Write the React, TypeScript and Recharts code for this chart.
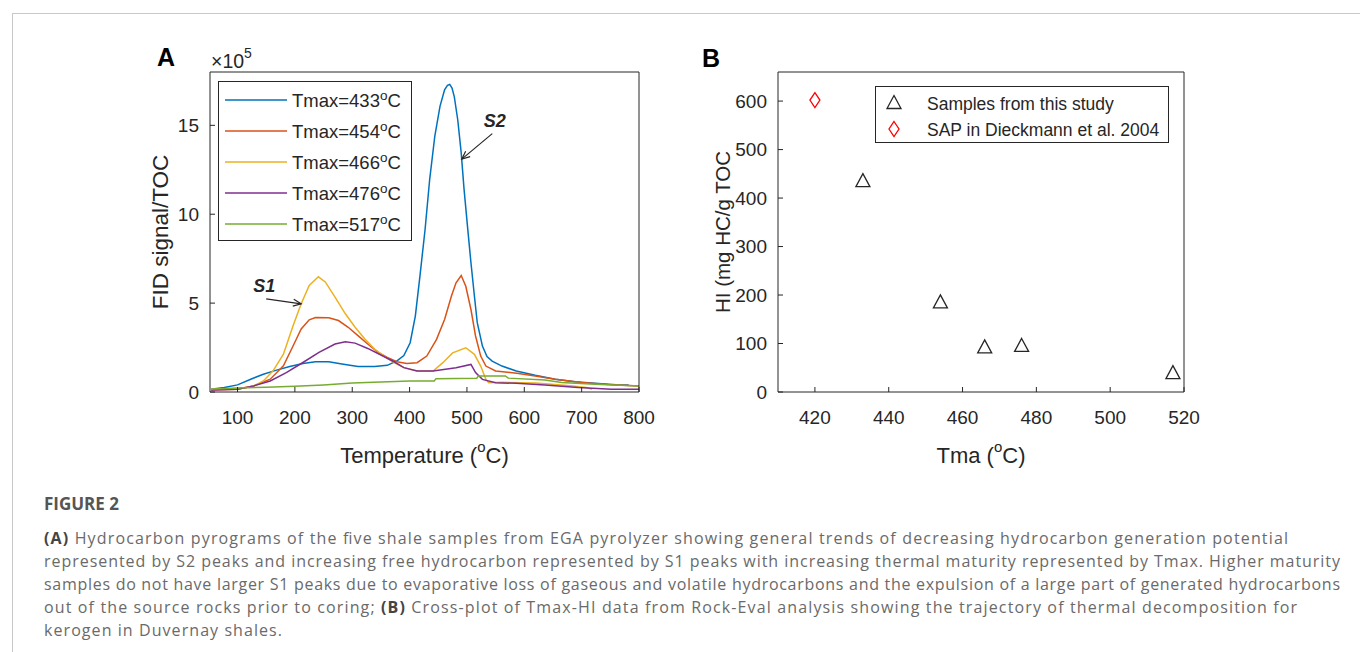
import React from "react";
import {
  LineChart,
  Line,
  XAxis,
  YAxis,
  Legend,
  ReferenceDot,
  ScatterChart,
  Scatter,
} from "recharts";

const FONT = '"Liberation Sans", Arial, sans-serif';
const INK = "#262626";

// panel A: pyrograms, temperature (°C) and FID signal/TOC (x10^5)
const temps433 = [54, 77, 100, 123, 145, 168, 191, 214, 236, 259, 282, 310, 339, 361, 378, 390, 401, 410, 418, 427, 435, 444, 453, 461, 466, 470, 474, 478, 484, 490, 495, 501, 507, 513, 518, 527, 535, 544, 561, 586, 619, 654, 688, 723, 760, 782];
const fid433 = [0.15, 0.25, 0.4, 0.72, 1.0, 1.23, 1.43, 1.6, 1.7, 1.7, 1.57, 1.43, 1.43, 1.5, 1.75, 2.05, 2.77, 4.27, 6.5, 9.14, 11.95, 14.4, 16.07, 17.0, 17.25, 17.3, 17.1, 16.6, 15.3, 13.45, 11.4, 9.3, 7.27, 5.4, 3.9, 2.58, 2.0, 1.74, 1.46, 1.18, 0.94, 0.72, 0.57, 0.49, 0.41, 0.39];

const temps454 = [54, 100, 128, 157, 180, 197, 211, 225, 236, 259, 276, 293, 310, 327, 344, 361, 378, 395, 413, 430, 447, 461, 473, 481, 490, 498, 507, 515, 524, 533, 550, 587, 619, 654, 700, 746, 800];
const fid454 = [0.11, 0.15, 0.34, 0.72, 1.47, 2.6, 3.55, 4.06, 4.19, 4.17, 4.02, 3.64, 3.17, 2.7, 2.26, 1.94, 1.7, 1.6, 1.65, 2.02, 2.96, 4.08, 5.4, 6.14, 6.55, 5.95, 4.64, 3.15, 2.02, 1.46, 1.18, 1.05, 0.9, 0.72, 0.53, 0.42, 0.34];

const temps466 = [54, 100, 128, 145, 162, 180, 197, 211, 225, 241, 253, 270, 288, 305, 322, 339, 356, 373, 390, 413, 441, 458, 475, 498, 513, 524, 533, 538, 560, 620, 680, 708, 718];
const fid466 = [0.15, 0.19, 0.34, 0.62, 1.19, 2.13, 3.74, 4.96, 6.0, 6.48, 6.19, 5.34, 4.4, 3.64, 2.98, 2.42, 2.0, 1.66, 1.37, 1.18, 1.18, 1.65, 2.2, 2.49, 2.12, 1.46, 0.71, 0.52, 0.55, 0.5, 0.35, 0.25, 0.15];

const temps476 = [54, 100, 128, 157, 185, 214, 242, 270, 288, 305, 327, 350, 373, 390, 413, 441, 481, 507, 515, 527, 550, 586, 636, 694, 752, 800];
const fid476 = [0.11, 0.15, 0.34, 0.62, 1.09, 1.66, 2.23, 2.7, 2.83, 2.75, 2.45, 2.08, 1.7, 1.37, 1.18, 1.18, 1.37, 1.55, 1.09, 0.71, 0.52, 0.49, 0.4, 0.25, 0.15, 0.15];

const temps517 = [54, 100, 150, 200, 250, 300, 350, 400, 443, 446, 517, 520, 567, 572, 636, 665, 723, 800];
const fid517 = [0.15, 0.22, 0.27, 0.33, 0.4, 0.5, 0.56, 0.62, 0.62, 0.75, 0.78, 0.9, 0.9, 0.78, 0.68, 0.53, 0.43, 0.34];

const tempTicks = [100, 200, 300, 400, 500, 600, 700, 800];
const fidTicks = [0, 5, 10, 15];

// annotation tips (temperature, FID)
const s1Tip = [211, 4.96];
const s2Tip = [491, 13.1];

// panel B: Tmax vs HI
const tmaxSamples = [433, 454, 466, 476, 517];
const hiSamples = [437, 187, 94, 97, 41];
const tmaxSap = [420];
const hiSap = [602];
const tmaTicks = [420, 440, 460, 480, 500, 520];
const hiTicks = [0, 100, 200, 300, 400, 500, 600];

const toPoints = (xs: number[], ys: number[], xk: string, yk: string) =>
  xs.map((x, i) => ({ [xk]: x, [yk]: ys[i] }));

const pyroSeries = [
  { name: "Tmax=433", color: "#0072BD", data: toPoints(temps433, fid433, "t", "v") },
  { name: "Tmax=454", color: "#D95319", data: toPoints(temps454, fid454, "t", "v") },
  { name: "Tmax=466", color: "#EDB120", data: toPoints(temps466, fid466, "t", "v") },
  { name: "Tmax=476", color: "#7E2F8E", data: toPoints(temps476, fid476, "t", "v") },
  { name: "Tmax=517", color: "#77AC30", data: toPoints(temps517, fid517, "t", "v") },
];

const hiNames = ["Samples from this study", "SAP in Dieckmann et al. 2004"];

const captionLines = [
  { w: 1244, bold: "(A)", pre: "", text: " Hydrocarbon pyrograms of the five shale samples from EGA pyrolyzer showing general trends of decreasing hydrocarbon generation potential" },
  { w: 1296, bold: "", pre: "", text: "represented by S2 peaks and increasing free hydrocarbon represented by S1 peaks with increasing thermal maturity represented by Tmax. Higher maturity" },
  { w: 1296, bold: "", pre: "", text: "samples do not have larger S1 peaks due to evaporative loss of gaseous and volatile hydrocarbons and the expulsion of a large part of generated hydrocarbons" },
  { w: 1253, bold: "(B)", pre: "out of the source rocks prior to coring; ", text: " Cross-plot of Tmax-HI data from Rock-Eval analysis showing the trajectory of thermal decomposition for" },
  { w: 238, bold: "", pre: "", text: "kerogen in Duvernay shales." },
];

const tickStyle = { fill: INK, fontSize: 19, fontFamily: FONT };

const SupTitle = ({ x, y, pre, sup, post, rotate, size = 22 }: any) => (
  <text
    x={x}
    y={y}
    fill={INK}
    fontFamily={FONT}
    fontSize={size}
    textAnchor="middle"
    dominantBaseline="central"
    transform={rotate ? `rotate(-90 ${x} ${y})` : undefined}
  >
    {pre}
    {sup ? (
      <tspan dy={-size * 0.42} fontSize={size * 0.68}>
        {sup}
      </tspan>
    ) : null}
    {post ? <tspan dy={sup ? size * 0.42 : 0}>{post}</tspan> : null}
  </text>
);

const xTitle = (pre: string, sup: string, post: string) => (p: any) => {
  const vb = p.viewBox;
  return <SupTitle x={vb.x + vb.width / 2} y={vb.y + 63} pre={pre} sup={sup} post={post} />;
};

const yTitle = (text: string, gap: number, size: number) => (p: any) => {
  const vb = p.viewBox;
  return <SupTitle x={vb.x + vb.width - gap} y={vb.y + vb.height / 2} pre={text} rotate size={size} />;
};

const ArrowNote = ({ cx, cy, tail, textAt, label }: any) => {
  const ax = cx + tail[0];
  const ay = cy + tail[1];
  const ang = Math.atan2(cy - ay, cx - ax);
  const hl = 8;
  const hw = 3.5;
  const bx = cx - hl * Math.cos(ang);
  const by = cy - hl * Math.sin(ang);
  const p1 = `${bx - hw * Math.sin(ang)},${by + hw * Math.cos(ang)}`;
  const p2 = `${bx + hw * Math.sin(ang)},${by - hw * Math.cos(ang)}`;
  return (
    <g>
      <line x1={ax} y1={ay} x2={cx} y2={cy} stroke={INK} strokeWidth={1.2} />
      <polyline points={`${p1} ${cx},${cy} ${p2}`} fill="none" stroke={INK} strokeWidth={1.2} />
      <text
        x={cx + textAt[0]}
        y={cy + textAt[1]}
        fill={INK}
        fontFamily={FONT}
        fontSize={18}
        fontWeight="bold"
        fontStyle="italic"
        textAnchor="middle"
        dominantBaseline="central"
      >
        {label}
      </text>
    </g>
  );
};

const PyroLegend = ({ payload }: any) => (
  <div
    style={{
      width: 194,
      height: 160,
      border: `1px solid ${INK}`,
      background: "#fff",
      boxSizing: "border-box",
      paddingTop: 3,
      fontFamily: FONT,
    }}
  >
    {pyroSeries.map((s) => {
      const e = (payload ?? []).find((p: any) => p.value === s.name);
      return (
        <div key={s.name} style={{ height: 30.8, display: "flex", alignItems: "center" }}>
          <svg width={70} height={10}>
            <line x1={6} x2={68} y1={5} y2={5} stroke={e?.color ?? s.color} strokeWidth={1.5} />
          </svg>
          <span style={{ fontSize: 18.5, color: INK, marginLeft: 3, lineHeight: "20px", position: "relative", top: 2 }}>
            {s.name}
            <span style={{ fontSize: 13.5, position: "relative", top: -7 }}>o</span>C
          </span>
        </div>
      );
    })}
  </div>
);

const Triangle = ({ cx, cy }: any) => (
  <polygon
    points={`${cx},${cy - 6.5} ${cx + 7},${cy + 6.5} ${cx - 7},${cy + 6.5}`}
    fill="none"
    stroke={INK}
    strokeWidth={1.3}
  />
);

const Diamond = ({ cx, cy }: any) => (
  <polygon
    points={`${cx},${cy - 7.5} ${cx + 5},${cy} ${cx},${cy + 7.5} ${cx - 5},${cy}`}
    fill="none"
    stroke="#ff0000"
    strokeWidth={1.3}
  />
);

const HiLegend = () => (
  <div
    style={{
      width: 294,
      height: 57,
      border: `1px solid ${INK}`,
      background: "#fff",
      boxSizing: "border-box",
      paddingTop: 2,
      fontFamily: FONT,
    }}
  >
    {hiNames.map((name, i) => (
      <div key={name} style={{ height: 26.5, display: "flex", alignItems: "center" }}>
        <svg width={40} height={20}>
          {i === 0 ? <Triangle cx={18} cy={10} /> : <Diamond cx={18} cy={10} />}
        </svg>
        <span style={{ fontSize: 17.5, color: INK, marginLeft: 11, position: "relative", top: 2 }}>
          {name}
        </span>
      </div>
    ))}
  </div>
);

export default function App() {
  return (
    <div
      style={{
        position: "absolute",
        left: 0,
        top: 0,
        width: 1360,
        height: 652,
        overflow: "hidden",
        background: "#fff",
      }}
    >
      <div
        style={{
          position: "absolute",
          left: 12,
          top: 13,
          width: 1400,
          height: 700,
          border: "1px solid #c8c8c8",
        }}
      />

      <div style={{ position: "absolute", left: 0, top: 0 }}>
        <LineChart width={680} height={480} margin={{ top: 71, right: 40, bottom: 18, left: 150 }}>
          <XAxis
            dataKey="t"
            type="number"
            domain={[52, 800]}
            ticks={tempTicks}
            allowDataOverflow
            height={70}
            tickSize={-5}
            tickMargin={24}
            tick={tickStyle}
            stroke={INK}
            label={{ content: xTitle("Temperature (", "o", "C)") }}
          />
          <XAxis
            xAxisId="top"
            orientation="top"
            type="number"
            domain={[52, 800]}
            ticks={tempTicks}
            allowDataOverflow
            height={1}
            tickSize={-5}
            tick={false}
            stroke={INK}
          />
          <YAxis
            type="number"
            domain={[0, 18]}
            ticks={fidTicks}
            allowDataOverflow
            width={60}
            tickSize={-5}
            tickMargin={16}
            tick={tickStyle}
            stroke={INK}
            label={{ content: yTitle("FID signal/TOC", 50, 22.5) }}
          />
          <YAxis
            yAxisId="right"
            orientation="right"
            type="number"
            domain={[0, 18]}
            ticks={fidTicks}
            allowDataOverflow
            width={1}
            tickSize={-5}
            tick={false}
            stroke={INK}
          />
          <Legend
            layout="vertical"
            align="center"
            verticalAlign="middle"
            width={194}
            height={160}
            wrapperStyle={{ left: 218, top: 81 }}
            content={PyroLegend}
          />
          {pyroSeries.map((s) => (
            <Line
              key={s.name}
              data={s.data}
              dataKey="v"
              name={s.name}
              type="linear"
              stroke={s.color}
              strokeWidth={1.5}
              dot={false}
              activeDot={false}
              isAnimationActive={false}
            />
          ))}
          <ReferenceDot
            x={s1Tip[0]}
            y={s1Tip[1]}
            r={0}
            ifOverflow="visible"
            shape={(p: any) => <ArrowNote {...p} tail={[-35, -5]} textAt={[-37, -18]} label="S1" />}
          />
          <ReferenceDot
            x={s2Tip[0]}
            y={s2Tip[1]}
            r={0}
            ifOverflow="visible"
            shape={(p: any) => <ArrowNote {...p} tail={[30.5, -25.5]} textAt={[33, -38]} label="S2" />}
          />
        </LineChart>
      </div>

      <div style={{ position: "absolute", left: 680, top: 0 }}>
        <ScatterChart width={560} height={480} margin={{ top: 71, right: 55, bottom: 18, left: 38 }}>
          <XAxis
            dataKey="tmax"
            type="number"
            domain={[410, 520]}
            ticks={tmaTicks}
            allowDataOverflow
            height={70}
            tickSize={-5}
            tickMargin={24}
            tick={tickStyle}
            stroke={INK}
            label={{ content: xTitle("Tma (", "o", "C)") }}
          />
          <XAxis
            xAxisId="top"
            orientation="top"
            type="number"
            domain={[410, 520]}
            ticks={tmaTicks}
            allowDataOverflow
            height={1}
            tickSize={-5}
            tick={false}
            stroke={INK}
          />
          <YAxis
            dataKey="hi"
            type="number"
            domain={[0, 660]}
            ticks={hiTicks}
            allowDataOverflow
            width={60}
            tickSize={-5}
            tickMargin={16}
            tick={tickStyle}
            stroke={INK}
            label={{ content: yTitle("HI (mg HC/g TOC", 56, 20.5) }}
          />
          <YAxis
            yAxisId="right"
            orientation="right"
            type="number"
            domain={[0, 660]}
            ticks={hiTicks}
            allowDataOverflow
            width={1}
            tickSize={-5}
            tick={false}
            stroke={INK}
          />
          <Legend
            layout="vertical"
            align="center"
            verticalAlign="middle"
            width={294}
            height={57}
            wrapperStyle={{ left: 195, top: 86 }}
            content={HiLegend}
          />
          <Scatter
            name={hiNames[0]}
            data={toPoints(tmaxSamples, hiSamples, "tmax", "hi")}
            shape={Triangle}
            isAnimationActive={false}
          />
          <Scatter
            name={hiNames[1]}
            data={toPoints(tmaxSap, hiSap, "tmax", "hi")}
            shape={Diamond}
            isAnimationActive={false}
          />
        </ScatterChart>
      </div>

      <svg
        width={1360}
        height={90}
        style={{ position: "absolute", left: 0, top: 0, pointerEvents: "none" }}
      >
        <text x={157} y={66} fontFamily={FONT} fontSize={25} fontWeight="bold" fill="#000">
          A
        </text>
        <text x={702} y={67} fontFamily={FONT} fontSize={25} fontWeight="bold" fill="#000">
          B
        </text>
        <text x={211} y={68} fontFamily={FONT} fontSize={19.5} fill={INK}>
          ×10
          <tspan dy={-10} fontSize={14}>
            5
          </tspan>
        </text>
      </svg>

      <svg
        width={1360}
        height={172}
        style={{ position: "absolute", left: 0, top: 480 }}
        fontFamily='"Open Sans", "Noto Sans", sans-serif'
      >
        <text x={44} y={29.5} fontSize={17} fontWeight="bold" fill="#555">
          FIGURE 2
        </text>
        {captionLines.map((l, i) => (
          <text
            key={i}
            x={44}
            y={64 + i * 23}
            fontSize={16}
            fill="#6a6a6a"
            textLength={l.w}
            lengthAdjust="spacing"
          >
            {l.pre}
            {l.bold ? (
              <tspan fontWeight="bold" fill="#444">
                {l.bold}
              </tspan>
            ) : null}
            {l.text}
          </text>
        ))}
      </svg>
    </div>
  );
}
